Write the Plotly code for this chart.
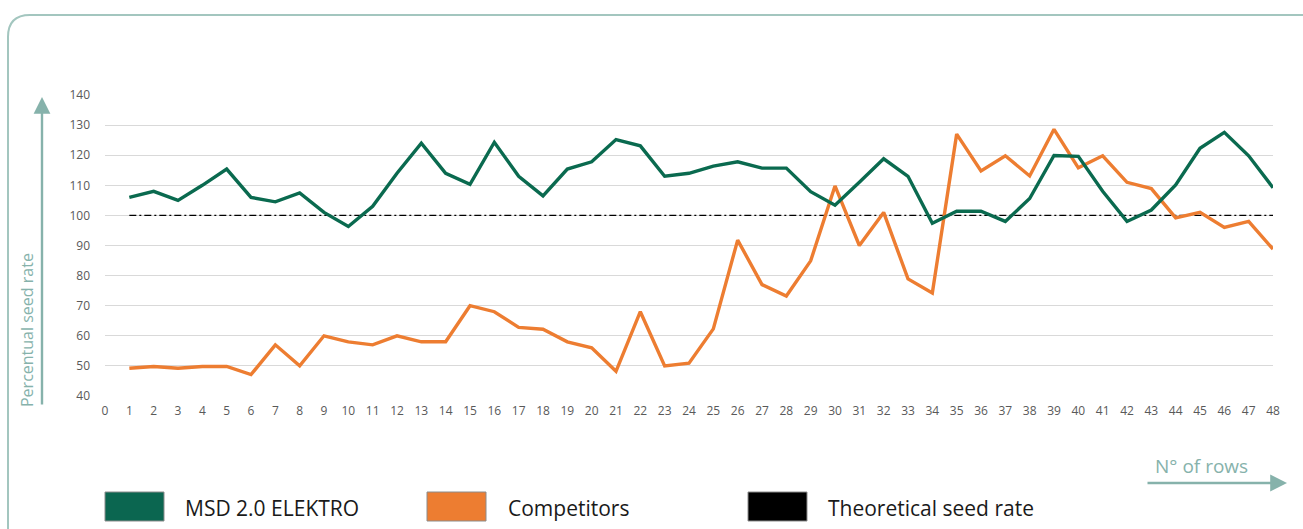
import plotly.graph_objects as go

# Row numbers along the field and the measured seed rate per row (% of target)
rows = list(range(1, 49))
msd_elektro = [106, 108, 105, 110, 115.4, 106, 104.5, 107.5, 101, 96.3,
               103, 114, 124, 114, 110.3, 124.3, 113, 106.5, 115.4, 117.8,
               125.2, 123.1, 113, 114, 116.4, 117.8, 115.7, 115.7, 107.9, 103.4,
               111, 118.8, 113, 97.4, 101.4, 101.4, 98, 105.6, 119.9, 119.6,
               108, 98, 101.8, 110.1, 122.3, 127.6, 119.8, 109.2]
competitors = [49.2, 49.8, 49.2, 49.8, 49.8, 47.1, 57, 50, 60, 58,
               57, 60, 58, 58, 70, 68, 62.8, 62.2, 58, 56,
               48.2, 68, 50, 50.9, 62.3, 91.8, 77, 73.2, 84.9, 109.8,
               90, 101, 78.9, 74.2, 127, 114.8, 119.8, 113.1, 128.6, 115.8,
               119.8, 111, 108.9, 99.2, 101, 96, 98, 88.8]
theoretical = [100] * len(rows)

x_ticks = list(range(0, 49))
y_ticks = [40, 50, 60, 70, 80, 90, 100, 110, 120, 130, 140]

GREEN = "#0a6a4f"
ORANGE = "#ed7d31"
TEAL = "#86b2ab"
FRAME = "#a3c6bf"
NARROW = "Liberation Sans Narrow, Arial Narrow, Open Sans, sans-serif"

W, H = 1303, 529
L, R, T, B = 105, 30, 95, 133
PW, PH = W - L - R, H - T - B


def px(x):
    return (x - L) / PW


def py(y):
    return 1 - (y - T) / PH


fig = go.Figure()
fig.add_trace(go.Scatter(x=rows, y=theoretical, mode="lines", name="Theoretical seed rate",
                         line=dict(color="black", width=1.3, dash="7px,3px,2px,3px")))
fig.add_trace(go.Scatter(x=rows, y=competitors, mode="lines", name="Competitors",
                         line=dict(color=ORANGE, width=3.4)))
fig.add_trace(go.Scatter(x=rows, y=msd_elektro, mode="lines", name="MSD 2.0 ELEKTRO",
                         line=dict(color=GREEN, width=3.4)))

shapes = []
# rounded frame around the chart panel
frame = (f"M {px(8)},{py(540)} L {px(8)},{py(37)} "
         f"Q {px(8)},{py(15)} {px(30)},{py(15)} L {px(1310)},{py(15)}")
shapes.append(dict(type="path", path=frame, xref="paper", yref="paper",
                   line=dict(color=FRAME, width=2)))

# legend swatches and labels
legend_items = [("MSD 2.0 ELEKTRO", "#0b6650", 105, 183),
                ("Competitors", ORANGE, 427, 506),
                ("Theoretical seed rate", "black", 748, 826)]
annotations = []
for label, color, bx, tx in legend_items:
    shapes.append(dict(type="rect", xref="paper", yref="paper",
                       x0=px(bx), x1=px(bx + 59), y0=py(521), y1=py(492),
                       fillcolor=color, line=dict(color="#8c8c8c", width=1)))
    annotations.append(dict(text=label, x=px(tx), y=py(508), xref="paper", yref="paper",
                            xanchor="left", yanchor="middle", showarrow=False,
                            font=dict(family=NARROW, size=21, color="#1a1a1a")))

# axis titles with arrows
annotations.append(dict(text="Percentual seed rate", x=px(27), y=py(330), xref="paper",
                        yref="paper", textangle=-90, showarrow=False,
                        xanchor="center", yanchor="middle",
                        font=dict(family=NARROW, size=16, color=TEAL)))
annotations.append(dict(text="", x=px(42), y=py(97), xref="paper", yref="paper",
                        showarrow=True, ax=0, ay=309, arrowhead=2, arrowsize=1.4,
                        arrowwidth=2.4, arrowcolor=TEAL))
annotations.append(dict(text="N° of rows", x=px(1201), y=py(466), xref="paper",
                        yref="paper", showarrow=False, xanchor="center", yanchor="middle",
                        font=dict(family=NARROW, size=19, color=TEAL)))
annotations.append(dict(text="", x=px(1287), y=py(483), xref="paper", yref="paper",
                        showarrow=True, ax=-141, ay=0, arrowhead=2, arrowsize=1.4,
                        arrowwidth=2.4, arrowcolor=TEAL))

fig.update_layout(
    width=W, height=H,
    margin=dict(l=L, r=R, t=T, b=B),
    paper_bgcolor="white", plot_bgcolor="white",
    showlegend=False,
    shapes=shapes,
    annotations=annotations,
    xaxis=dict(range=[0, 48], tickmode="array", tickvals=x_ticks,
               ticktext=[str(v) for v in x_ticks], showgrid=False, zeroline=False,
               showline=False, ticks="", ticklabelstandoff=6,
               tickfont=dict(family="Open Sans", size=12, color="#595959")),
    yaxis=dict(range=[40, 140], tickmode="array", tickvals=y_ticks,
               showgrid=True, gridcolor="#d9d9d9", gridwidth=1, zeroline=False,
               showline=False, ticks="", ticklabelstandoff=14,
               tickfont=dict(family="Open Sans", size=12, color="#595959")),
)

fig.write_html("out.html")
